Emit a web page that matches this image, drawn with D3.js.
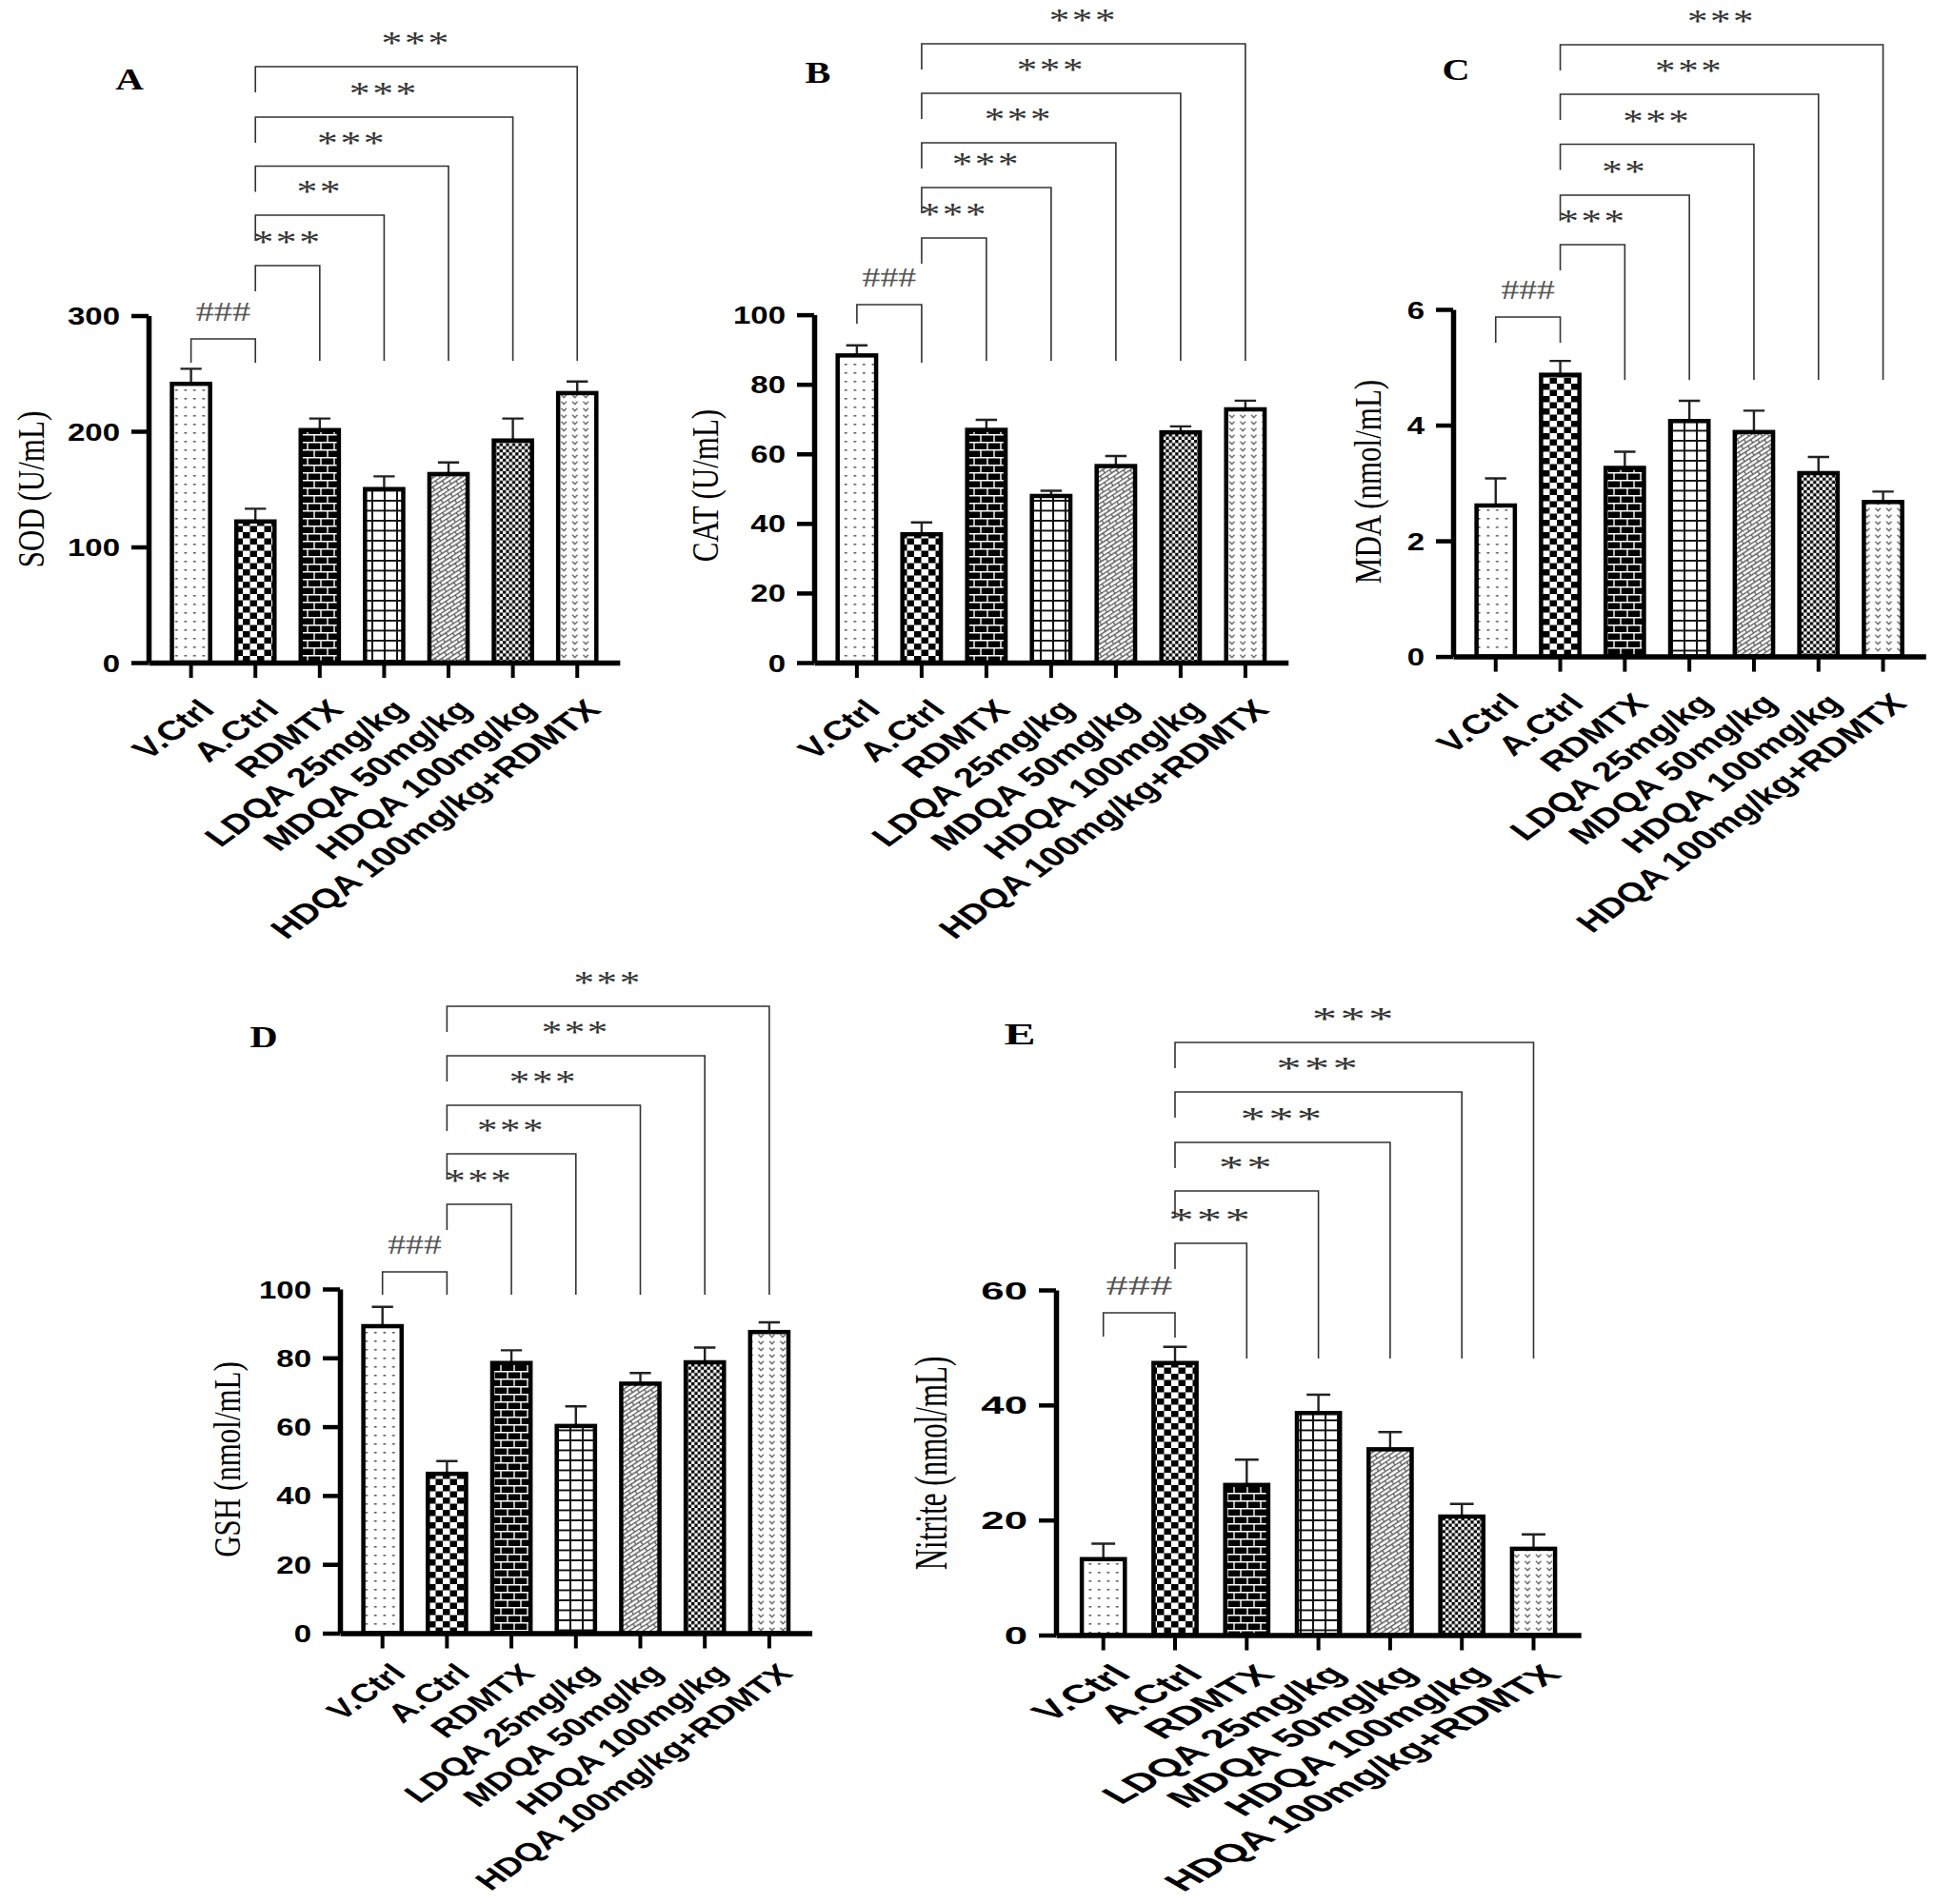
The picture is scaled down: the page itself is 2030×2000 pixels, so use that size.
<!DOCTYPE html>
<html>
<head>
<meta charset="utf-8">
<script src="https://d3js.org/d3.v7.min.js"></script>
<style>
    body { margin: 0; background: #fff; }
    #fig { font-family: "Liberation Sans", Arial, sans-serif; }
</style>
</head>
<body>
<div id="fig"></div>
<script>
    // groups on the x axis (same for every panel)
    var groups = ["V.Ctrl", "A.Ctrl", "RDMTX", "LDQA 25mg/kg", "MDQA 50mg/kg", "HDQA 100mg/kg", "HDQA 100mg/kg+RDMTX"];

    // A - SOD
    var sodMean = [241, 122, 201, 150, 163, 192, 233];
    var sodSem = [13, 11, 10, 11, 10, 19, 10];
    var sodTicks = [0, 100, 200, 300];
    var sodSig = ["***", "**", "***", "***", "***"];

    // B - CAT
    var catMean = [88.3, 36.9, 66.9, 47.9, 56.5, 66.2, 72.8];
    var catSem = [2.9, 3.4, 2.9, 1.5, 2.9, 1.7, 2.5];
    var catTicks = [0, 20, 40, 60, 80, 100];
    var catSig = ["***", "***", "***", "***", "***"];

    // C - MDA
    var mdaMean = [2.61, 4.87, 3.26, 4.07, 3.88, 3.17, 2.67];
    var mdaSem = [0.47, 0.24, 0.28, 0.35, 0.37, 0.28, 0.18];
    var mdaTicks = [0, 2, 4, 6];
    var mdaSig = ["***", "**", "***", "***", "***"];

    // D - GSH
    var gshMean = [89.2, 46.3, 78.5, 60.2, 72.5, 78.7, 87.5];
    var gshSem = [5.6, 3.7, 3.7, 5.7, 3.1, 4.3, 2.8];
    var gshTicks = [0, 20, 40, 60, 80, 100];
    var gshSig = ["***", "***", "***", "***", "***"];

    // E - Nitrite
    var nitMean = [13.2, 47.3, 26.1, 38.6, 32.3, 20.6, 15.0];
    var nitSem = [2.7, 2.8, 4.4, 3.2, 3.0, 2.2, 2.5];
    var nitTicks = [0, 20, 40, 60];
    var nitSig = ["***", "**", "***", "***", "***"];

    var hashLabel = "###";

    // panel layout (pixels); sx = horizontal stretch of the texts, lsx = of the tilted labels
    var panels = [
        { letter: "A", title: "SOD (U/mL)", mean: sodMean, sem: sodSem, ticks: sodTicks, sig: sodSig,
          axisX: 156, step: 67.6, y0: 696, yTop: 331.5, sx: 1.32, tsx: 1.32, lsx: 1.38, lf: 28.5, ly: 44,
          letterPos: [136, 83], titlePos: [32, 514],
          hash: { y: 356, l: 381, r: 381 }, lev: [279, 226, 174.5, 123, 70], legEnd: 379 },
        { letter: "B", title: "CAT (U/mL)", mean: catMean, sem: catSem, ticks: catTicks, sig: catSig,
          axisX: 855, step: 68, y0: 696, yTop: 330.6, sx: 1.3, tsx: 1.32, lsx: 1.38, lf: 28.5, ly: 44,
          letterPos: [859, 76], titlePos: [740, 510],
          hash: { y: 320, l: 340, r: 381 }, lev: [250, 197, 150, 98, 46], legEnd: 379 },
        { letter: "C", title: "MDA (nmol/mL)", mean: mdaMean, sem: mdaSem, ticks: mdaTicks, sig: mdaSig,
          axisX: 1526, step: 67.8, y0: 689.6, yTop: 325, sx: 1.3, tsx: 1.32, lsx: 1.38, lf: 28.5, ly: 44,
          letterPos: [1529, 73], titlePos: [1436, 506],
          hash: { y: 333, l: 360, r: 360 }, lev: [257, 205, 151.5, 99, 47], legEnd: 399 },
        { letter: "D", title: "GSH (nmol/mL)", mean: gshMean, sem: gshSem, ticks: gshTicks, sig: gshSig,
          axisX: 357, step: 67.7, y0: 1715.5, yTop: 1354, sx: 1.3, tsx: 1.32, lsx: 1.4, lf: 27, ly: 37,
          letterPos: [277, 1089], titlePos: [238, 1533],
          hash: { y: 1336, l: 1360, r: 1360 }, lev: [1265, 1212, 1161, 1109, 1057], legEnd: 1360 },
        { letter: "E", title: "Nitrite (nmol/mL)", mean: nitMean, sem: nitSem, ticks: nitTicks, sig: nitSig,
          axisX: 1109, step: 75.3, y0: 1717.5, yTop: 1355, sx: 1.6, tsx: 1.75, lsx: 1.75, lf: 27, ly: 36,
          letterPos: [1071, 1086], titlePos: [977, 1537],
          hash: { y: 1379, l: 1404, r: 1405 }, lev: [1306, 1251, 1200, 1147, 1095], legEnd: 1427 }
    ];

    var patternIds = ["p-dots", "p-check", "p-brick", "p-grid", "p-diag", "p-fine", "p-chev"];

    var W = 2030, H = 2000;
    var svg = d3.select("#fig").append("svg").attr("width", W).attr("height", H);
    svg.append("rect").attr("width", W).attr("height", H).attr("fill", "#fff");
    var defs = svg.append("defs");

    function pat(id, w, h, draw, tf) {
        var p = defs.append("pattern").attr("id", id)
            .attr("patternUnits", "userSpaceOnUse")
            .attr("width", w).attr("height", h);
        if (tf) p.attr("patternTransform", tf);
        p.append("rect").attr("width", w).attr("height", h).attr("fill", "#fff");
        draw(p);
    }
    pat("p-dots", 9.5, 9, function(p) {
        p.append("rect").attr("x", 3.5).attr("y", 4).attr("width", 2.6).attr("height", 1.6).attr("fill", "#555");
    });
    pat("p-check", 15, 13, function(p) {
        p.append("rect").attr("width", 7.5).attr("height", 6.5).attr("fill", "#000");
        p.append("rect").attr("x", 7.5).attr("y", 6.5).attr("width", 7.5).attr("height", 6.5).attr("fill", "#000");
    });
    pat("p-brick", 14, 16, function(p) {
        p.append("rect").attr("width", 14).attr("height", 16).attr("fill", "#000");
        p.append("path").attr("d", "M0,0.8H14M0,8.8H14M1,0.8V8.8M8,8.8V16.8")
            .attr("stroke", "#fff").attr("stroke-width", 1.4).attr("fill", "none");
    });
    pat("p-grid", 13, 10.5, function(p) {
        p.append("path").attr("d", "M1,0V10.5M0,1H13")
            .attr("stroke", "#111").attr("stroke-width", 2).attr("fill", "none");
    });
    pat("p-diag", 12, 8, function(p) {
        p.append("path").attr("d", "M0,0.5H12M0,4.5H12M0.5,0.5V4.5M6.5,4.5V8.5")
            .attr("stroke", "#555").attr("stroke-width", 1.3).attr("fill", "none");
    }, "rotate(-33)");
    pat("p-fine", 6.6, 6.6, function(p) {
        p.append("rect").attr("width", 3.3).attr("height", 3.3).attr("fill", "#000");
        p.append("rect").attr("x", 3.3).attr("y", 3.3).attr("width", 3.3).attr("height", 3.3).attr("fill", "#000");
    });
    pat("p-chev", 11.5, 7, function(p) {
        p.append("path").attr("d", "M3,1.8L5.7,4.8L8.4,1.8")
            .attr("stroke", "#666").attr("stroke-width", 1.4).attr("fill", "none");
    });

    function stretchText(parent, txt, px, py, sx, rot) {
        return parent.append("text")
            .attr("transform", "translate(" + px + "," + py + ") scale(" + sx + ",1)" + (rot ? " rotate(" + rot + ")" : ""))
            .text(txt);
    }

    function drawPanel(L) {
        var g = svg.append("g").attr("class", "panel-" + L.letter);
        var xEnd = L.axisX + L.step * 7.32;
        var x = d3.scaleBand().domain(groups).range([L.axisX, xEnd]).paddingInner(0.34).paddingOuter(0.33);
        var y = d3.scaleLinear().domain([0, L.ticks[L.ticks.length - 1]]).range([L.y0, L.yTop]);
        var bw = x.bandwidth();
        var sw = 4.5;
        var cx = function(d) { return x(d) + bw / 2; };

        var rows = groups.map(function(k, i) { return { key: k, mean: L.mean[i], sem: L.sem[i], pat: patternIds[i] }; });

        // error bars (upper SEM)
        var eb = g.append("g").attr("stroke", "#222").attr("stroke-width", 2.4).attr("fill", "none");
        eb.selectAll("path").data(rows).enter().append("path")
            .attr("d", function(d) {
                var c = cx(d.key), t = y(d.mean + d.sem), cw = bw * 0.5;
                return "M" + c + "," + y(d.mean) + "V" + t + "M" + (c - cw / 2) + "," + t + "H" + (c + cw / 2);
            });

        // bars
        g.append("g").selectAll("rect").data(rows).enter().append("rect")
            .attr("x", function(d) { return x(d.key) + sw / 2; })
            .attr("width", bw - sw)
            .attr("y", function(d) { return y(d.mean); })
            .attr("height", function(d) { return L.y0 - y(d.mean); })
            .attr("fill", function(d) { return "url(#" + d.pat + ")"; })
            .attr("stroke", "#000").attr("stroke-width", sw);

        // y axis
        var ya = g.append("g").attr("transform", "translate(" + L.axisX + ",0)")
            .call(d3.axisLeft(y).tickValues(L.ticks).tickSize(18).tickSizeOuter(0).tickFormat(d3.format("d")));
        ya.select(".domain").attr("stroke", "#000").attr("stroke-width", 5.5);
        ya.selectAll(".tick line").attr("stroke", "#000").attr("stroke-width", 4.5);
        ya.selectAll(".tick text")
            .attr("x", null).attr("dy", "0.36em")
            .attr("transform", "translate(-30,0) scale(" + L.tsx + ",1)")
            .attr("text-anchor", "end").attr("fill", "#000")
            .style("font", "bold 25px 'Liberation Sans', Arial, sans-serif");

        // x axis
        var xa = g.append("g").attr("transform", "translate(0," + L.y0 + ")")
            .call(d3.axisBottom(x).tickSize(16).tickSizeOuter(0).tickFormat(""));
        xa.select(".domain").attr("stroke", "#000").attr("stroke-width", 5.5);
        xa.selectAll(".tick line").attr("stroke", "#000").attr("stroke-width", 4);

        // tilted category labels
        var lab = g.append("g").attr("text-anchor", "end").attr("fill", "#000")
            .style("font", "bold " + L.lf + "px 'Liberation Sans', Arial, sans-serif");
        groups.forEach(function(k) {
            stretchText(lab, k, cx(k) + 7 + 7 * L.lsx, L.y0 + L.ly, L.lsx, -45).attr("dy", "0.35em");
        });

        // y title
        stretchText(g, L.title, L.titlePos[0], L.titlePos[1], L.sx, -90)
            .attr("dy", "0.35em").attr("text-anchor", "middle").attr("fill", "#000")
            .style("font", "31px 'Liberation Serif', 'Times New Roman', serif");

        // panel letter
        stretchText(g, L.letter, L.letterPos[0], L.letterPos[1], L.sx, 0)
            .attr("dy", "0.35em").attr("text-anchor", "middle").attr("fill", "#000")
            .style("font", "bold 31px 'Liberation Serif', 'Times New Roman', serif");

        // comparison brackets
        var br = g.append("g").attr("stroke", "#333").attr("stroke-width", 1.6).attr("fill", "none");
        var x0 = cx(groups[0]), x1 = cx(groups[1]);
        br.append("path").attr("d", "M" + x0 + "," + L.hash.l + "V" + L.hash.y + "H" + x1 + "V" + L.hash.r);
        stretchText(g, hashLabel, (x0 + x1) / 2, L.hash.y - 19, L.sx, 0)
            .attr("text-anchor", "middle").attr("fill", "#555")
            .style("font", "29px 'Liberation Serif', 'Times New Roman', serif");

        L.sig.forEach(function(s, i) {
            var xt = cx(groups[i + 2]), ly = L.lev[i];
            br.append("path").attr("d", "M" + x1 + "," + (ly + 27) + "V" + ly + "H" + xt + "V" + L.legEnd);
            stretchText(g, s, (x1 + xt) / 2, ly - 14, L.sx, 0)
                .attr("text-anchor", "middle").attr("fill", "#333")
                .style("font", "33px 'Liberation Serif', 'Times New Roman', serif")
                .style("letter-spacing", "2px");
        });
    }

    panels.forEach(drawPanel);
</script>
</body>
</html>
